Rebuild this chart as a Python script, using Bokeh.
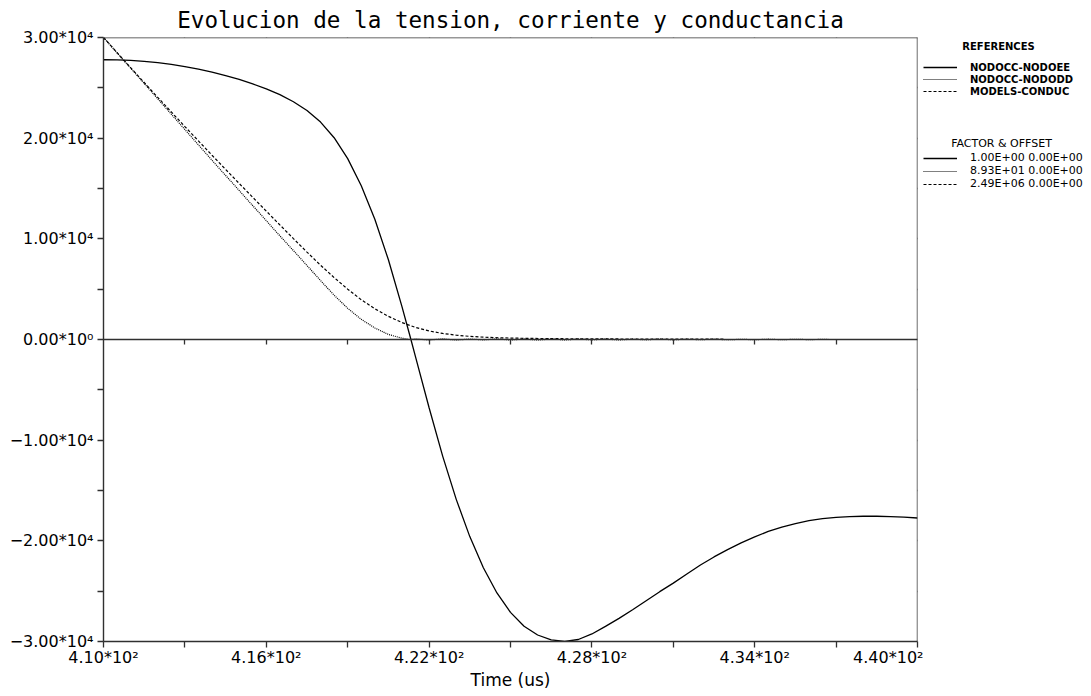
from bokeh.plotting import figure
from bokeh.models import Range1d, LinearAxis, FixedTicker, Legend, LegendItem, Label
from bokeh.layouts import row
from bokeh.embed import file_html
from bokeh.resources import INLINE

# ---------------- data ----------------
TITLE = "Evolucion de la tension, corriente y conductancia"
X_LABEL = "Time (us)"

X_TICKS = [410, 416, 422, 428, 434, 440]
X_MINOR = [413, 419, 425, 431, 437]
X_TICK_LABELS = ["4.10*10²", "4.16*10²", "4.22*10²", "4.28*10²", "4.34*10²", "4.40*10²"]
ZERO_TICKS = [413, 416, 419, 422, 425, 428, 431, 434, 437]

Y_TICKS = [-30000, -20000, -10000, 0, 10000, 20000, 30000]
Y_MINOR = [-25000, -15000, -5000, 5000, 15000, 25000]
Y_TICK_LABELS = ["−3.00*10⁴", "−2.00*10⁴", "−1.00*10⁴", "0.00*10⁰",
                 "1.00*10⁴", "2.00*10⁴", "3.00*10⁴"]

REF_TITLE = "REFERENCES"
REF_NAMES = ["NODOCC-NODOEE", "NODOCC-NODODD", "MODELS-CONDUC"]
FAC_TITLE = "FACTOR & OFFSET"
FACTOR_OFFSET = ["1.00E+00 0.00E+00", "8.93E+01 0.00E+00", "2.49E+06 0.00E+00"]

# NODOCC-NODOEE (solid)
ee_t = [410.0, 410.5, 411.0, 411.5, 412.0, 412.5, 413.0, 413.5, 414.0, 414.5, 415.0, 415.5,
        416.0, 416.5, 417.0, 417.5, 418.0, 418.5, 419.0, 419.5, 420.0, 420.5, 421.0, 421.33,
        421.5, 422.0, 422.5, 423.0, 423.5, 424.0, 424.5, 425.0, 425.5, 426.0, 426.5, 427.0,
        427.5, 428.0, 428.5, 429.0, 429.5, 430.0, 430.5, 431.0, 431.5, 432.0, 432.5, 433.0,
        433.5, 434.0, 434.5, 435.0, 435.5, 436.0, 436.5, 437.0, 437.5, 438.0, 438.5, 439.0,
        439.5, 440.0]
ee_v = [27790, 27770, 27720, 27630, 27500, 27320, 27100, 26850, 26560, 26220, 25835, 25395,
        24895, 24320, 23620, 22745, 21595, 20045, 17970, 15270, 11945, 7920, 3270, 0,
        -1730, -6780, -11580, -15880, -19580, -22680, -25180, -27105, -28480, -29355, -29830, -29980,
        -29800, -29250, -28500, -27700, -26850, -25950, -25050, -24200, -23300, -22400, -21600, -20870,
        -20200, -19600, -19070, -18630, -18280, -18000, -17800, -17670, -17590, -17560, -17560, -17590,
        -17650, -17730]

# NODOCC-NODODD (dotted)
dd_t = [410.0, 411.0, 412.0, 413.0, 414.0, 415.0, 416.0, 416.5, 417.0, 417.5, 418.0, 418.5,
        419.0, 419.5, 420.0, 420.5, 421.0, 421.3,
        421.5, 422.0, 422.5, 423.0, 423.5, 424.0, 424.5, 425.0, 425.5, 426.0, 426.5, 427.0,
        427.5, 428.0, 428.5, 429.0, 429.5, 430.0, 430.5, 431.0, 431.5, 432.0, 432.5, 433.0,
        433.5, 434.0, 434.5, 435.0, 435.5, 436.0, 436.5, 436.8]
dd_v = [30000, 26950, 23900, 20850, 17800, 14800, 11800, 10300, 8830, 7350, 5850, 4400,
        3100, 2000, 1150, 500, 130, 0,
        60, -50, 70, -60, 50, -40, 60, -50, 40, -50, 50, -40,
        40, -30, 40, -40, 30, -30, 40, -30, 30, -20, 30, -30,
        20, -20, 30, -20, 20, -10, 10, 0]

# MODELS-CONDUC (dashed)
mc_t = [410.0, 411.0, 412.0, 413.0, 414.0, 415.0, 416.0, 416.5, 417.0, 417.5, 418.0, 418.5,
        419.0, 419.5, 420.0, 420.5, 421.0, 421.5, 422.0, 422.5, 423.0, 423.5, 424.0, 424.7,
        425.5, 426.5, 428.0, 430.0, 432.9]
mc_v = [30000, 27000, 24050, 21150, 18300, 15500, 12750, 11380, 10020, 8680, 7380, 6150,
        5000, 3950, 3050, 2300, 1680, 1200, 850, 600, 430, 310, 230, 160,
        115, 85, 60, 45, 30]

# ---------------- style ----------------
AXIS_COLOR = "#303030"
LINE_COLOR = "#000000"
TICK_FONT = "DejaVu Sans"
BORDER_TOP = 36
BORDER_BOTTOM = 55

p = figure(width=923, height=696, output_backend="svg", toolbar_location=None,
           x_range=Range1d(410, 440), y_range=Range1d(-30000, 30000),
           min_border_left=103, min_border_right=6,
           min_border_top=BORDER_TOP, min_border_bottom=BORDER_BOTTOM)
p.outline_line_color = None
p.grid.visible = False
p.background_fill_color = "white"
p.border_fill_color = "white"

p.title.text = TITLE
p.title.align = "center"
p.title.text_font = "DejaVu Sans Mono"
p.title.text_font_size = "22.6px"
p.title.text_font_style = "normal"
p.title.text_color = "#000000"
p.title.standoff = 9


def style_axis(ax, show_labels=True, tick_in=0, tick_out=6):
    ax.axis_line_color = AXIS_COLOR
    ax.axis_line_width = 1.4
    ax.major_tick_line_color = AXIS_COLOR
    ax.minor_tick_line_color = AXIS_COLOR
    ax.major_tick_line_width = 1.3
    ax.minor_tick_line_width = 1.3
    ax.major_tick_in = tick_in
    ax.major_tick_out = tick_out
    ax.minor_tick_in = tick_in
    ax.minor_tick_out = tick_out
    ax.major_label_text_font = TICK_FONT
    ax.major_label_text_font_size = "16px"
    ax.major_label_text_color = "#000000" if show_labels else None


xa = p.xaxis[0]
xa.ticker = FixedTicker(ticks=X_TICKS, minor_ticks=X_MINOR)
xa.major_label_overrides = {t: s for t, s in zip(X_TICKS, X_TICK_LABELS)}
style_axis(xa)
xa.major_label_standoff = 0
xa.axis_label = X_LABEL
xa.axis_label_text_font = TICK_FONT
xa.axis_label_text_font_size = "17px"
xa.axis_label_text_font_style = "normal"
xa.axis_label_text_color = "#000000"
xa.axis_label_standoff = 0

ya = p.yaxis[0]
ya.ticker = FixedTicker(ticks=Y_TICKS, minor_ticks=Y_MINOR)
ya.major_label_overrides = {t: s for t, s in zip(Y_TICKS, Y_TICK_LABELS)}
style_axis(ya)
ya.major_label_standoff = 4

top_ax = LinearAxis(fixed_location=30000, ticker=FixedTicker(ticks=X_TICKS, minor_ticks=X_MINOR))
style_axis(top_ax, show_labels=False)
p.add_layout(top_ax, "above")

right_ax = LinearAxis(fixed_location=440, ticker=FixedTicker(ticks=Y_TICKS, minor_ticks=Y_MINOR))
style_axis(right_ax, show_labels=False)
p.add_layout(right_ax, "right")

zero_ax = LinearAxis(fixed_location=0, ticker=FixedTicker(ticks=ZERO_TICKS, minor_ticks=[]))
style_axis(zero_ax, show_labels=False, tick_out=5)
p.add_layout(zero_ax, "below")

SERIES = [
    (ee_t, ee_v, dict(line_width=1.3)),
    (dd_t, dd_v, dict(line_width=1.2, line_dash="1 1")),
    (mc_t, mc_v, dict(line_width=1.2, line_dash="3 2")),
]
for t, v, kw in SERIES:
    p.line(t, v, line_color=LINE_COLOR, **kw)

# ---------------- legend panel (separate figure on the right) ----------------
# its frame spans the same vertical band as the main frame (y 36..641 of the page)
pl = figure(width=168, height=696, output_backend="svg", toolbar_location=None,
            x_range=Range1d(0, 1), y_range=Range1d(0, 1),
            min_border_left=0, min_border_right=0,
            min_border_top=BORDER_TOP, min_border_bottom=BORDER_BOTTOM,
            x_axis_location=None, y_axis_location=None)
pl.outline_line_color = None
pl.grid.visible = False
pl.background_fill_color = "white"
pl.border_fill_color = "white"

# samples for the legend keys (data lies outside this panel's ranges, so only the keys show)
leg_renderers = [pl.line(t, v, line_color=LINE_COLOR, **kw) for t, v, kw in SERIES]

REF_FONT = "DejaVu Sans"


def make_legend(labels, loc, font, style, size):
    leg = Legend(items=[LegendItem(label=l, renderers=[r]) for l, r in zip(labels, leg_renderers)],
                 location=loc, orientation="vertical")
    leg.border_line_color = None
    leg.background_fill_alpha = 0
    leg.padding = 0
    leg.margin = 0
    leg.spacing = 0
    leg.label_height = 12
    leg.glyph_height = 12
    leg.glyph_width = 34
    leg.label_standoff = 13
    leg.label_text_font = font
    leg.label_text_font_size = size
    leg.label_text_font_style = style
    leg.label_text_color = "#000000"
    leg.label_text_baseline = "middle"
    return leg


pl.add_layout(make_legend(REF_NAMES, (0, 544), REF_FONT, "bold", "10px"), "center")
pl.add_layout(make_legend(FACTOR_OFFSET, (0, 451), "DejaVu Sans", "normal", "11px"), "center")

pl.add_layout(Label(x=75, y=595, x_units="screen", y_units="screen", text=REF_TITLE,
                    text_align="center", text_baseline="middle", text_font=REF_FONT,
                    text_font_size="10px", text_font_style="bold", text_color="#000000"))
pl.add_layout(Label(x=78, y=498, x_units="screen", y_units="screen", text=FAC_TITLE,
                    text_align="center", text_baseline="middle", text_font="DejaVu Sans",
                    text_font_size="11px", text_font_style="normal", text_color="#000000"))

layout = row(p, pl)
open("out.html", "w").write(file_html(layout, INLINE))
